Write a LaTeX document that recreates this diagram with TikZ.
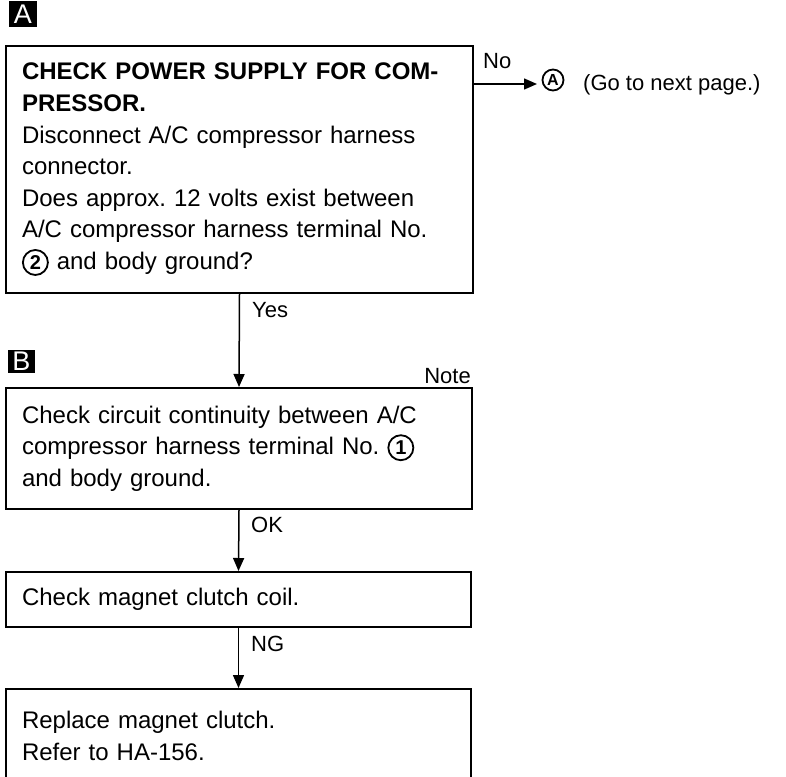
\documentclass[tikz,border=0pt]{standalone}
\usepackage{fontspec}
\setmainfont{Liberation Sans}
\usetikzlibrary{arrows.meta}
\frenchspacing
\newcommand{\cnum}[1]{\tikz[baseline={([yshift=-7pt]cn.center)}]\node[draw,circle,line width=1.8pt,inner sep=0pt,minimum size=25pt,font=\fontsize{20}{20}\bfseries\selectfont](cn){#1};}
\tikzset{
  box/.style={draw,line width=2pt,anchor=north west,align=left,inner xsep=16pt,
    font=\fontsize{24}{31.6}\selectfont},
  arr/.style={line width=1.5pt,-{Triangle[length=13pt,width=11pt]}},
  lab/.style={anchor=base west,inner sep=0pt,font=\fontsize{22}{22}\selectfont},
  tag/.style={fill=black,text=white,inner sep=0pt,font=\fontsize{27}{27}\selectfont}
}
\begin{document}
\begin{tikzpicture}[x=1pt,y=1pt]
\useasboundingbox (0,0) rectangle (786,-776);
\node[tag,minimum width=28pt,minimum height=26pt] (tA) at (23,-14) {A};
\node[box,minimum width=467pt,minimum height=247pt,text width=435pt] (b1) at (5,-45)
 {\textbf{CHECK POWER SUPPLY FOR COM-}\\
  \textbf{PRESSOR.}\\
  Disconnect A/C compressor harness\\
  connector.\\
  Does approx. 12 volts exist between\\
  A/C compressor harness terminal No.\\
  \cnum{2} and body ground?};
\node[draw,circle,line width=1.8pt,inner sep=0pt,minimum size=21pt,font=\fontsize{16}{16}\bfseries\selectfont] (cA) at (553,-80) {A};
\coordinate (arrowend) at (537,-84);
\node[lab] (go) at (583,-90) {(Go to next page.)};
\node[lab] (no) at (483,-68) {No};
\draw[arr] (b1.east |- arrowend) -- (arrowend);
\node[tag,minimum width=27pt,minimum height=23pt] (tB) at (21.5,-361.5) {B};
\node[anchor=base east,inner sep=0pt,font=\fontsize{22}{22}\selectfont] (note) at (471,-383) {Note};
\node[box,minimum width=466pt,minimum height=121pt,text width=434pt] (b2) at (5,-387)
 {Check circuit continuity between A/C\\
  compressor harness terminal No. \cnum{1}\\
  and body ground.};
\node[box,minimum width=465pt,minimum height=55pt,text width=433pt] (b3) at (5,-571)
 {Check magnet clutch coil.};
\node[box,minimum width=465pt,minimum height=94pt,text width=433pt] (b4) at (5,-688)
 {Replace magnet clutch.\\
  Refer to HA-156.};
\draw[arr] (b1.south) -- (b2.north);
\draw[arr] (b2.south) -- (b3.north);
\draw[arr] (b3.south) -- (b4.north);
\node[lab] (yes) at (252,-317) {Yes};
\node[lab] (ok) at (251,-532) {OK};
\node[lab] (ng) at (251,-651) {NG};
\end{tikzpicture}
\end{document}
